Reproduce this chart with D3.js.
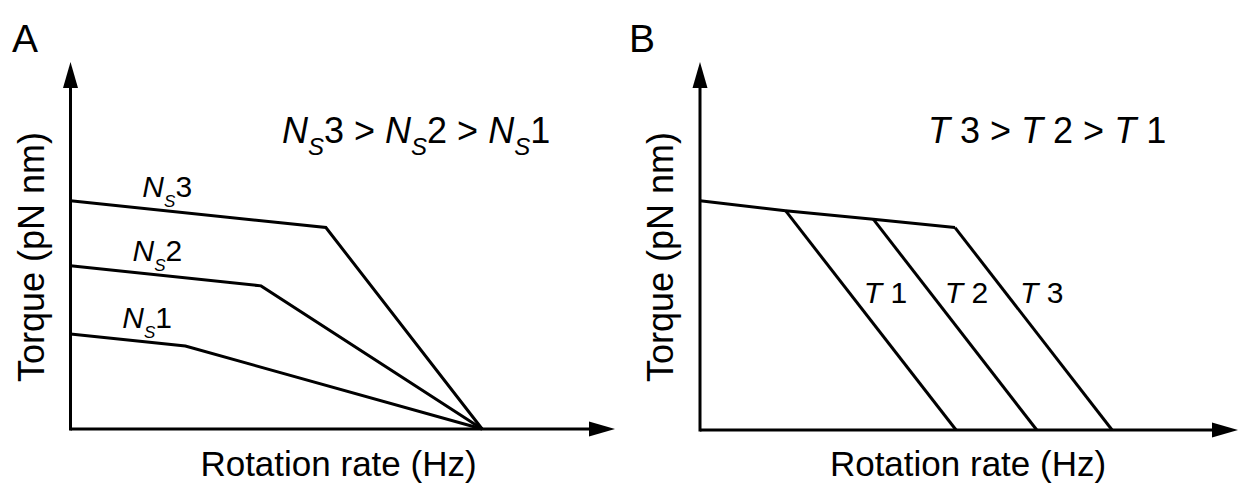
<!DOCTYPE html>
<html>
<head>
<meta charset="utf-8">
<script src="https://cdn.jsdelivr.net/npm/d3@7"></script>
<style>
  body { margin: 0; background: #fff; }
  text { font-family: "Liberation Sans", Arial, sans-serif; fill: #000; white-space: pre; }
</style>
</head>
<body>
<svg id="container" width="1242" height="484"></svg>
<script>
// panel A data: torque-speed curves for stator numbers Ns1..Ns3 (arbitrary units 0-100)
var nsNames = ['1', '2', '3'];
var nsRate = [[0, 21.1, 75.6], [0, 35.0, 75.6], [0, 46.9, 75.6]];
var nsTorque = [[25.9, 22.6, 0], [44.5, 39.0, 0], [62.2, 54.9, 0]];

// panel B data: common plateau plus temperature curves T1..T3
var plateauRate = [0, 15.9, 32.2, 47.4];
var plateauTorque = [62.3, 59.6, 57.3, 55.0];
var tNames = ['1', '2', '3'];
var tKneeRate = [15.9, 32.2, 47.4];
var tKneeTorque = [59.6, 57.3, 55.0];
var tZeroRate = [47.6, 62.6, 76.6];

var svg = d3.select('#container');
var line = d3.line().x(d => d.x).y(d => d.y);

// draw arrowed axes + axis titles for one panel
function drawAxes(g, x, y, letter, letterX){
  var x0 = x.range()[0], x1 = x.range()[1];
  var y0 = y.range()[0], y1 = y.range()[1];

  g.append('line').attr('x1', x0).attr('x2', x1 - 20).attr('y1', y0).attr('y2', y0)
      .attr('stroke', '#000').attr('stroke-width', 3);
  g.append('line').attr('x1', x0).attr('x2', x0).attr('y1', y0 + 1.5).attr('y2', y1 + 20)
      .attr('stroke', '#000').attr('stroke-width', 3);

  // arrow heads
  g.append('path').attr('d', `M${x1},${y0} L${x1 - 26},${y0 - 7.5} L${x1 - 26},${y0 + 7.5} Z`);
  g.append('path').attr('d', `M${x0},${y1} L${x0 - 7.5},${y1 + 26} L${x0 + 7.5},${y1 + 26} Z`);

  g.append('text')
      .attr('text-anchor', 'middle')
      .attr('x', x0 + 268)
      .attr('y', 476)
      .style('font-size', '35px')
      .text('Rotation rate (Hz)');

  g.append('text')
      .attr('text-anchor', 'middle')
      .attr('transform', `translate(${x0 - 27}, 257) rotate(-90)`)
      .style('font-size', '36px')
      .text('Torque (pN nm)');

  g.append('text')
      .attr('x', letterX)
      .attr('y', 52)
      .style('font-size', '39px')
      .text(letter);
}

// "N_S<n>" label built from tspans
function nsLabel(t, n, size, subSize, subDy){
  t.style('font-size', size + 'px');
  t.append('tspan').style('font-style', 'italic').text('N');
  t.append('tspan').style('font-style', 'italic').style('font-size', subSize + 'px')
      .attr('dy', subDy).text('S');
  t.append('tspan').attr('dy', -subDy).text(n);
}

// ---------- panel A ----------
var xA = d3.scaleLinear().domain([0, 100]).range([70.5, 615]);
var yA = d3.scaleLinear().domain([0, 100]).range([429, 62]);
var gA = svg.append('g');
drawAxes(gA, xA, yA, 'A', 12);

var labelRateA = [9.5, 11.4, 13.2];
nsNames.forEach(function(n, i){
  var pts = nsRate[i].map((r, j) => ({x: xA(r), y: yA(nsTorque[i][j])}));
  gA.append('path')
      .attr('d', line(pts))
      .attr('fill', 'none')
      .attr('stroke', '#000')
      .attr('stroke-width', 3);

  // label sits just above the first segment
  var r = labelRateA[i];
  var tq = nsTorque[i][0] + (nsTorque[i][1] - nsTorque[i][0]) * r / nsRate[i][1];
  nsLabel(gA.append('text').attr('x', xA(r)).attr('y', yA(tq) - 11), n, 30, 17, 10);
});

// title A: Ns3 > Ns2 > Ns1
var titleA = gA.append('text').attr('x', 282).attr('y', 143).style('font-size', '36px');
nsNames.slice().reverse().forEach(function(n, i){
  titleA.append('tspan').style('font-style', 'italic').text('N');
  titleA.append('tspan').style('font-style', 'italic').style('font-size', '24px').attr('dy', 12).text('S');
  titleA.append('tspan').attr('dy', -12).text(i < 2 ? n + ' > ' : n);
});

// ---------- panel B ----------
var xB = d3.scaleLinear().domain([0, 100]).range([700, 1238]);
var yB = d3.scaleLinear().domain([0, 100]).range([430, 62]);
var gB = svg.append('g');
drawAxes(gB, xB, yB, 'B', 629);

gB.append('path')
    .attr('d', line(plateauRate.map((r, j) => ({x: xB(r), y: yB(plateauTorque[j])}))))
    .attr('fill', 'none')
    .attr('stroke', '#000')
    .attr('stroke-width', 3);

var labelTorqueB = 34.5;
tNames.forEach(function(n, i){
  gB.append('path')
      .attr('d', line([{x: xB(tKneeRate[i]), y: yB(tKneeTorque[i])}, {x: xB(tZeroRate[i]), y: yB(0)}]))
      .attr('fill', 'none')
      .attr('stroke', '#000')
      .attr('stroke-width', 3);

  // label to the right of the falling segment
  var ty = labelTorqueB + 3;
  var rAt = tZeroRate[i] + (tKneeRate[i] - tZeroRate[i]) * ty / tKneeTorque[i];
  var t = gB.append('text').attr('x', xB(rAt) + 15).attr('y', yB(labelTorqueB)).style('font-size', '30px');
  t.append('tspan').style('font-style', 'italic').text('T');
  t.append('tspan').text(' ' + n);
});

// title B: T 3 > T 2 > T 1
var titleB = gB.append('text').attr('x', 928).attr('y', 143).style('font-size', '36px');
tNames.slice().reverse().forEach(function(n, i){
  titleB.append('tspan').style('font-style', 'italic').text('T');
  titleB.append('tspan').text(i < 2 ? ' ' + n + ' > ' : ' ' + n);
});
</script>
</body>
</html>
